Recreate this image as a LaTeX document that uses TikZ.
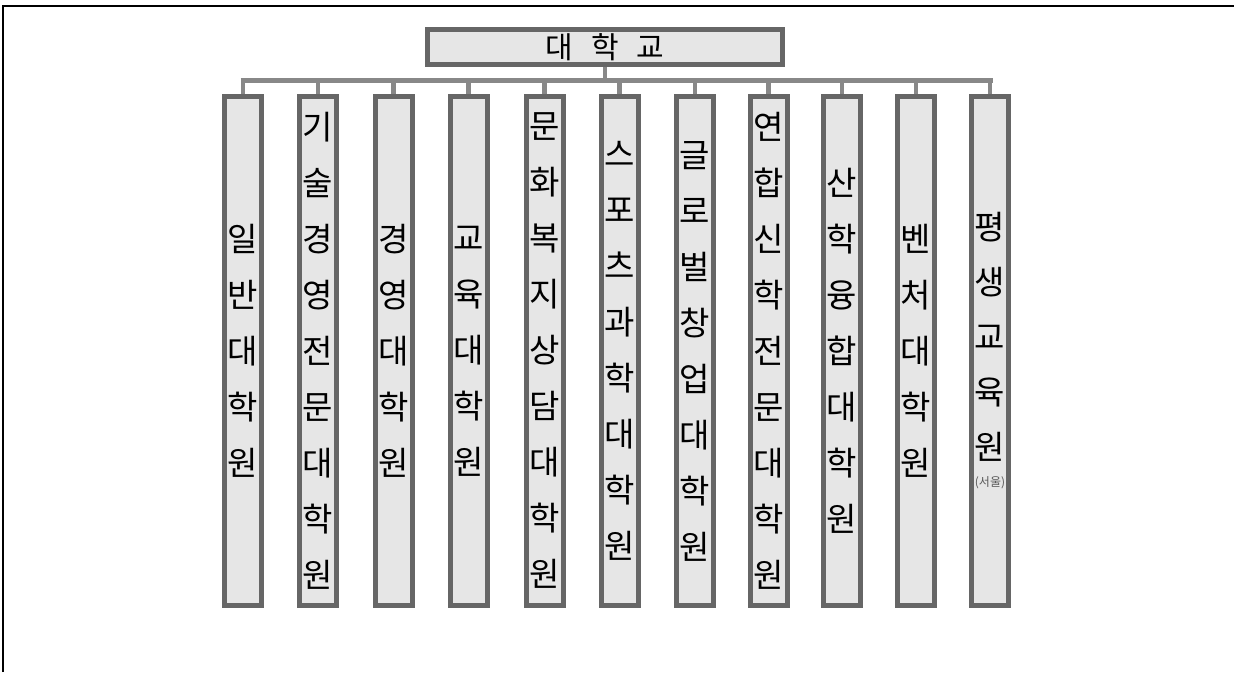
\documentclass[tikz,border=0pt]{standalone}
\usepackage{fontspec}
\newfontfamily\kr{Noto Sans CJK KR}
\usetikzlibrary{backgrounds}
\definecolor{boxfill}{HTML}{E6E6E6}
\definecolor{boxline}{HTML}{666666}
\definecolor{busline}{HTML}{888888}
\tikzset{
  unit/.style={draw=boxline, fill=boxfill, line width=5pt, inner sep=0pt,
    minimum width=37pt, minimum height=509pt, align=center,
    font=\kr\fontsize{33}{56}\selectfont, text=black},
  topbox/.style={draw=boxline, fill=boxfill, line width=5pt, inner sep=0pt,
    minimum width=355pt, minimum height=35pt, font=\kr\fontsize{30}{30}\selectfont},
  bus/.style={draw=busline, line width=5pt},
  stub/.style={draw=busline, line width=4.5pt},
  frame/.style={draw=black, line width=1.5pt}
}
\newcommand\seoulnote{{\fontsize{12}{12}\selectfont\color{black!65}(서울)}}
\begin{document}
\begin{tikzpicture}[x=1pt,y=-1pt]
\useasboundingbox (0,0) rectangle (1234,672);
\draw[frame] (3,672) -- (3,6) -- (1234,6);
\node[topbox] (u) at (605,47) {대\hspace{18pt}학\hspace{18pt}교};
\node[unit] (b1) at (243,351) {일\\반\\대\\학\\원};
\node[unit] (b2) at (318,351) {기\\술\\경\\영\\전\\문\\대\\학\\원};
\node[unit] (b3) at (393.5,351) {경\\영\\대\\학\\원};
\node[unit] (b4) at (468.5,351) {교\\육\\대\\학\\원};
\node[unit] (b5) at (544.5,351) {문\\화\\복\\지\\상\\담\\대\\학\\원};
\node[unit] (b6) at (619.5,351) {스\\포\\츠\\과\\학\\대\\학\\원};
\node[unit] (b7) at (695,351) {글\\로\\벌\\창\\업\\대\\학\\원};
\node[unit] (b8) at (768.5,351) {연\\합\\신\\학\\전\\문\\대\\학\\원};
\node[unit] (b9) at (842,351) {산\\학\\융\\합\\대\\학\\원};
\node[unit] (b10) at (916,351) {벤\\처\\대\\학\\원};
\node[unit, font=\kr\fontsize{33}{55}\selectfont] (b11) at (990,351) {평\\생\\교\\육\\원\\[-28pt]\seoulnote};
\coordinate (busL) at (240.5,80);
\coordinate (busR) at (992.5,80);
\begin{pgfonlayer}{background}
\draw[bus] (busL) -- (busR);
\draw[stub] (u.south) -- (u.south |- busL);
\foreach \b in {b1,b2,b3,b4,b5,b6,b7,b8,b9,b10,b11}
  \draw[stub] (\b.north) -- (\b.north |- busL);
\end{pgfonlayer}
\end{tikzpicture}
\end{document}
